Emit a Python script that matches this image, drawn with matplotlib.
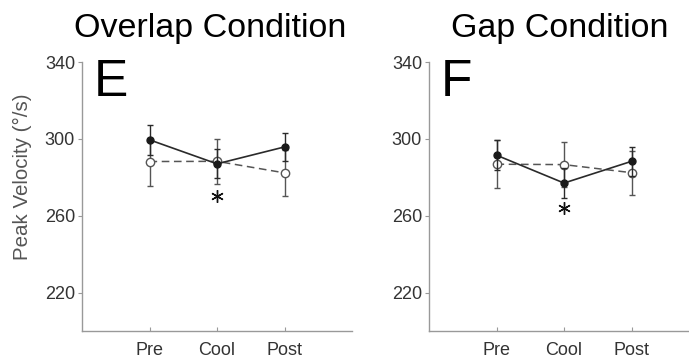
import matplotlib
matplotlib.use("Agg")
import matplotlib.pyplot as plt

plt.rcParams['font.family'] = ['Liberation Sans', 'DejaVu Sans']

categories = ["Pre", "Cool", "Post"]
x_pos = [1, 2, 3]

# Overlap condition (E)
overlap_filled = [299.5, 287.0, 295.8]
overlap_filled_err = [7.7, 7.5, 7.5]
overlap_open = [288.2, 288.3, 282.3]
overlap_open_err = [12.5, 11.8, 12.0]

# Gap condition (F)
gap_filled = [291.5, 277.0, 288.3]
gap_filled_err = [7.8, 8.0, 7.5]
gap_open = [286.8, 286.6, 282.4]
gap_open_err = [12.4, 11.8, 11.5]

star_overlap = (2, 270.5)
star_gap = (2, 263.8)

yticks = [220, 260, 300, 340]

fig = plt.figure(figsize=(6.89, 3.63), dpi=100)

spine_col = "#999999"
text_col = "#333333"

def panel(ax, filled, ferr, opn, oerr, letter, star, ylabel=None):
    ax.errorbar(x_pos, opn, yerr=oerr, color="#555555", ls=(0, (5, 3)), lw=1.1,
                marker="o", ms=6, mfc="white", mec="#555555", mew=1.0,
                capsize=2.2, elinewidth=1.0, ecolor="#555555", zorder=2)
    ax.errorbar(x_pos, filled, yerr=ferr, color="#2a2a2a", ls="-", lw=1.2,
                marker="o", ms=5, mfc="#1a1a1a", mec="#1a1a1a",
                capsize=2.2, elinewidth=1.0, ecolor="#2a2a2a", zorder=3)
    ax.plot([star[0]], [star[1]], marker=(6, 2, 0), ms=9, mew=1.0, color="#111111",
            ls="none", zorder=4)
    ax.set_xlim(0, 4)
    ax.set_ylim(200, 340)
    ax.set_yticks(yticks)
    ax.set_xticks(x_pos)
    ax.set_xticklabels(categories)
    for s in ["top", "right"]:
        ax.spines[s].set_visible(False)
    for s in ["left", "bottom"]:
        ax.spines[s].set_color(spine_col)
        ax.spines[s].set_linewidth(1.0)
    ax.tick_params(axis="both", colors=spine_col, labelcolor=text_col, labelsize=13, length=3)
    ax.tick_params(axis="x", direction="in", pad=8)
    ax.tick_params(axis="y", direction="out", pad=2)
    ax.text(0.045, 1.014, letter, transform=ax.transAxes, ha="left", va="top",
            fontsize=37, color="black")
    if ylabel:
        ax.set_ylabel(ylabel, fontsize=14.8, color="#555555")
        ax.yaxis.set_label_coords(-0.184, 0.572)

ax1 = fig.add_axes([82/689, 32/363, 270/689, 269/363])
panel(ax1, overlap_filled, overlap_filled_err, overlap_open, overlap_open_err, "E",
      star_overlap, "Peak Velocity (°/s)")
ax2 = fig.add_axes([429/689, 32/363, 270/689, 269/363])
panel(ax2, gap_filled, gap_filled_err, gap_open, gap_open_err, "F", star_gap)

fig.text(210/689, 1 - 28/363, "Overlap Condition", ha="center", va="center", fontsize=24.5, color="black")
fig.text(560/689, 1 - 28/363, "Gap Condition", ha="center", va="center", fontsize=24.5, color="black")

fig.savefig("out.png", dpi=100)
